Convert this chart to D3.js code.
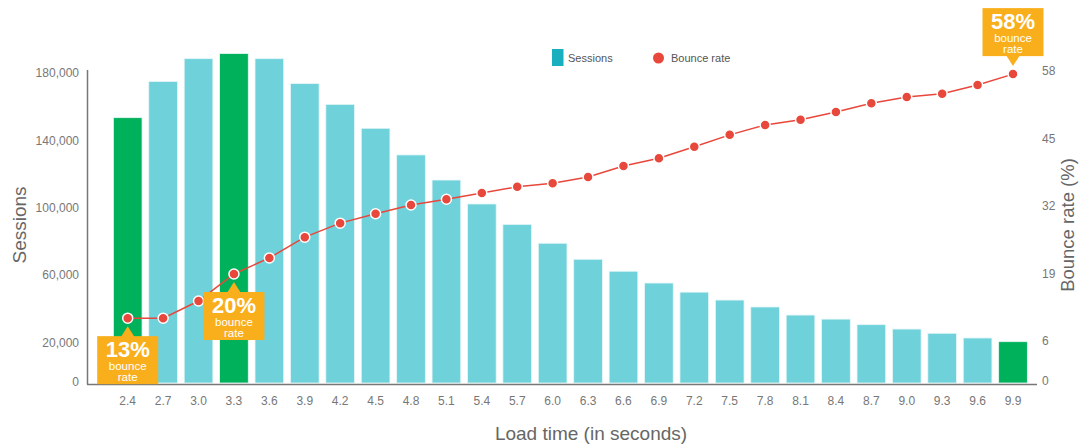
<!DOCTYPE html>
<html>
<head>
<meta charset="utf-8">
<script src="https://cdn.jsdelivr.net/npm/d3@7"></script>
<style>
  html, body { margin: 0; padding: 0; background: #fff; }
  svg { display: block; font-family: "Liberation Sans", Arial, sans-serif; }
</style>
</head>
<body>
<svg id="chart" width="1080" height="446"></svg>
<script>
const categories = ["2.4","2.7","3.0","3.3","3.6","3.9","4.2","4.5","4.8","5.1","5.4","5.7","6.0","6.3","6.6","6.9","7.2","7.5","7.8","8.1","8.4","8.7","9.0","9.3","9.6","9.9"];
const sessions = [153500,175000,188500,191500,188500,173700,161400,147200,131400,116500,102300,90200,79000,69500,62400,55400,50000,45300,41200,36400,34000,30700,28100,25600,22800,20600];
const bounceRate = [10.4,10.4,13.7,18.9,22,26,28.7,30.5,32.2,33.3,34.5,35.7,36.4,37.6,39.7,41.2,43.4,45.7,47.6,48.6,50.1,51.8,53,53.6,55.3,57.4];
const highlighted = ["2.4","3.3","9.9"];
const leftTicks = [0,20000,60000,100000,140000,180000];
const rightTicks = [0,6,19,32,45,58];
const callouts = [
  {cat:"2.4", label:"13%", dir:"below"},
  {cat:"3.3", label:"20%", dir:"below"},
  {cat:"9.9", label:"58%", dir:"above"}
];

const svg = d3.select("#chart");
const barColor = "#6FD1DA", hiColor = "#00B15B", lineColor = "#E8473B", calloutColor = "#F9AE1B";
const axisColor = "#777", textColor = "#777";

const x = d3.scaleBand().domain(categories).range([110, 1030.7]).paddingInner(0.19).paddingOuter(0.095);
const yL = d3.scaleLinear().domain([0, 20000, 180000]).range([383, 342.7, 73]);
const yR = d3.scaleLinear().domain([0, 6, 58]).range([383, 341, 71]);

// bars
svg.append("g").selectAll("rect").data(categories).join("rect")
  .attr("x", d => x(d))
  .attr("width", x.bandwidth())
  .attr("y", (d,i) => yL(sessions[i]))
  .attr("height", (d,i) => yL(0) - yL(sessions[i]))
  .attr("fill", d => highlighted.includes(d) ? hiColor : barColor)
  .attr("stroke", "#E6F7F8").attr("stroke-width", 0.8);

// axes lines
svg.append("line").attr("x1", 87.5).attr("x2", 87.5).attr("y1", 70).attr("y2", 384.5)
  .attr("stroke", axisColor).attr("stroke-width", 1.5);
svg.append("line").attr("x1", 87).attr("x2", 1037).attr("y1", 384.5).attr("y2", 384.5)
  .attr("stroke", axisColor).attr("stroke-width", 1.5);

// left tick labels
const fmt = d3.format(",");
svg.append("g").selectAll("text").data(leftTicks).join("text")
  .attr("x", 79).attr("y", d => yL(d) - (d === 0 ? 1.5 : 0))
  .attr("dy", "0.35em").attr("text-anchor", "end")
  .attr("font-size", 12).attr("fill", textColor)
  .text(d => fmt(d));

// right tick labels
svg.append("g").selectAll("text").data(rightTicks).join("text")
  .attr("x", 1042).attr("y", d => yR(d) - (d === 0 ? 2 : 0))
  .attr("dy", "0.35em").attr("text-anchor", "start")
  .attr("font-size", 12).attr("fill", textColor)
  .text(d => d);

// x tick labels
svg.append("g").selectAll("text").data(categories).join("text")
  .attr("x", d => x(d) + x.bandwidth()/2).attr("y", 401)
  .attr("dy", "0.35em").attr("text-anchor", "middle")
  .attr("font-size", 12).attr("fill", textColor)
  .text(d => d);

// axis titles
svg.append("text").attr("transform", "translate(26,225) rotate(-90)")
  .attr("text-anchor", "middle").attr("font-size", 19).attr("fill", "#666").text("Sessions");
svg.append("text").attr("transform", "translate(1074,225) rotate(-90)")
  .attr("text-anchor", "middle").attr("font-size", 18.5).attr("fill", "#666").text("Bounce rate (%)");
svg.append("text").attr("x", 591).attr("y", 440)
  .attr("text-anchor", "middle").attr("font-size", 19).attr("fill", "#666").text("Load time (in seconds)");

// line
const cx = d => x(d) + x.bandwidth()/2;
const line = d3.line().x((d,i) => cx(categories[i])).y(d => yR(d));
svg.append("path").datum(bounceRate).attr("d", line)
  .attr("fill", "none").attr("stroke", lineColor).attr("stroke-width", 1.5);
svg.append("g").selectAll("circle").data(bounceRate).join("circle")
  .attr("cx", (d,i) => cx(categories[i])).attr("cy", d => yR(d)).attr("r", 5)
  .attr("fill", lineColor).attr("stroke", "#fff").attr("stroke-width", 1.5);

// legend
svg.append("rect").attr("x", 552).attr("y", 49).attr("width", 11.5).attr("height", 17).attr("fill", "#1AAFBF");
svg.append("text").attr("x", 568).attr("y", 58).attr("dy", "0.35em").attr("font-size", 11).attr("fill", "#555").text("Sessions");
svg.append("circle").attr("cx", 658.5).attr("cy", 58).attr("r", 5.5).attr("fill", lineColor);
svg.append("text").attr("x", 671).attr("y", 58).attr("dy", "0.35em").attr("font-size", 11).attr("fill", "#555").text("Bounce rate");

// callouts
const boxW = 61, boxH = 48, gap = 8, tri = 10;
callouts.forEach(c => {
  const i = categories.indexOf(c.cat);
  const px = cx(c.cat), py = yR(bounceRate[i]);
  const g = svg.append("g");
  let top, tipY, baseY;
  if (c.dir === "below") {
    tipY = py + gap; baseY = tipY + tri; top = baseY;
  } else {
    tipY = py - gap; baseY = tipY - tri; top = baseY - boxH;
  }
  g.append("rect").attr("x", px - boxW/2).attr("y", top).attr("width", boxW).attr("height", boxH).attr("fill", calloutColor);
  g.append("path").attr("d", `M${px-7},${baseY + (c.dir==="below"?1:-1)} L${px},${tipY} L${px+7},${baseY + (c.dir==="below"?1:-1)} Z`).attr("fill", calloutColor);
  g.append("text").attr("x", px).attr("y", top + 21).attr("text-anchor", "middle")
    .attr("font-size", 22).attr("font-weight", "bold").attr("fill", "#fff").text(c.label);
  g.append("text").attr("x", px).attr("y", top + 34).attr("text-anchor", "middle")
    .attr("font-size", 11.5).attr("fill", "#fff").text("bounce");
  g.append("text").attr("x", px).attr("y", top + 45).attr("text-anchor", "middle")
    .attr("font-size", 11.5).attr("fill", "#fff").text("rate");
});
</script>
</body>
</html>
